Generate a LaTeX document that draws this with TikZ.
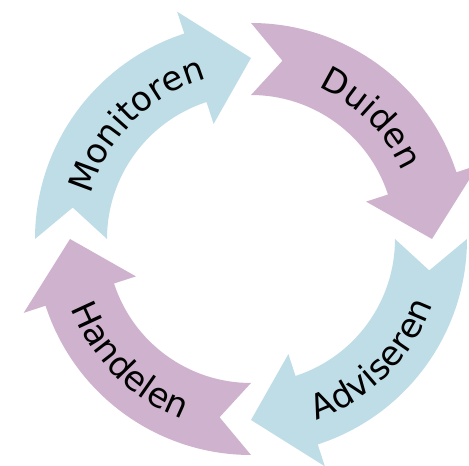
\documentclass[tikz,border=0pt]{standalone}
\usepackage{fontspec}
\setmainfont{DejaVu Sans}
\usetikzlibrary{decorations.text}
\definecolor{cblue}{RGB}{191,221,230}
\definecolor{cpurple}{RGB}{207,179,206}
\newcommand\lblfont{\fontsize{34}{34}\selectfont}
\newcommand\cyclearr[2]{%
  \begin{scope}[shift={(251,227)},rotate=#1]
    \fill[#2] (180:216) arc[start angle=180, end angle=108, radius=216]
      -- (108:239) -- (90:181) -- (108:121) -- (108:144)
      arc[start angle=108, end angle=180, radius=144]
      -- (170:181) -- cycle;
  \end{scope}}
\tikzset{
  lbltext/.style={decorate, decoration={text along path, text align=center, text={|\lblfont|#1}}}
}
\begin{document}
\begin{tikzpicture}[x=1pt,y=1pt]
  \clip (0,0) rectangle (469,466);
  \cyclearr{0}{cblue}
  \cyclearr{-90}{cpurple}
  \cyclearr{-180}{cblue}
  \cyclearr{-270}{cpurple}
  \begin{scope}[shift={(251,227)}]
    \path[lbltext=Monitoren] (175:166) arc[start angle=175, end angle=95, radius=166];
    \path[lbltext=Duiden] (85:166) arc[start angle=85, end angle=5, radius=166];
    \path[lbltext=Adviseren] (-85:193) arc[start angle=-85, end angle=-5, radius=193];
    \path[lbltext=Handelen] (185:193) arc[start angle=185, end angle=265, radius=193];
  \end{scope}
\end{tikzpicture}
\end{document}
